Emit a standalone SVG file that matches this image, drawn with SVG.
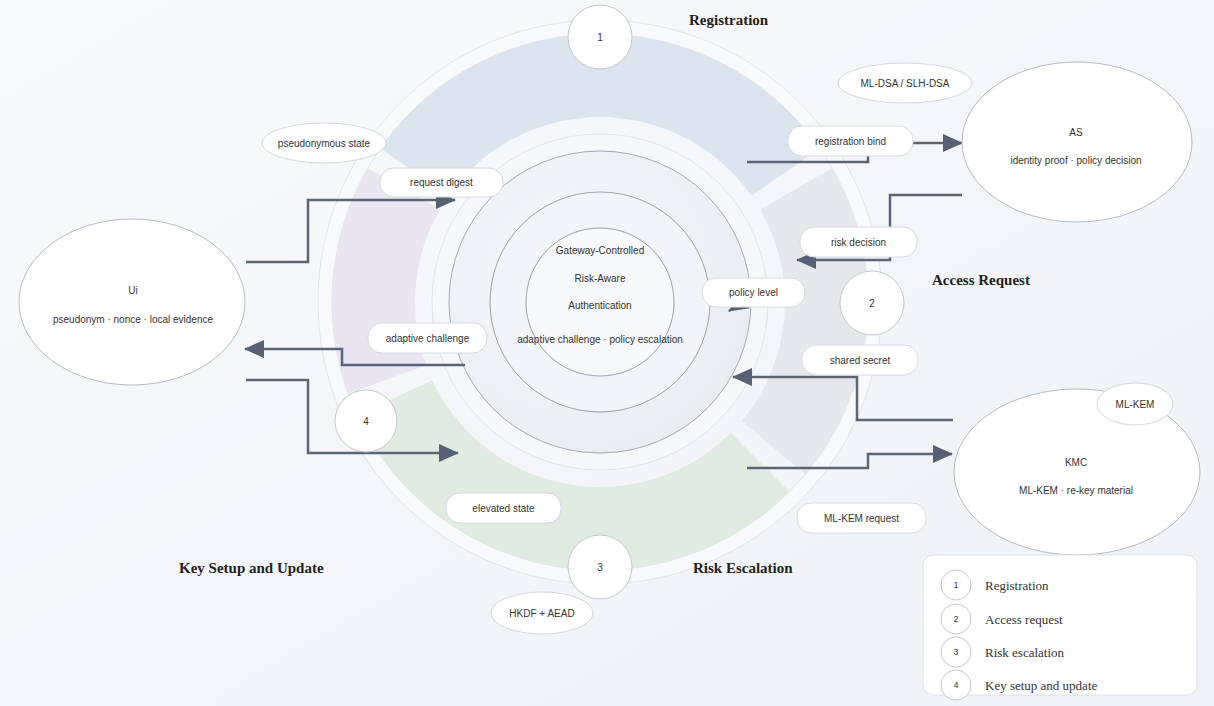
<svg xmlns="http://www.w3.org/2000/svg" width="1214" height="706" viewBox="0 0 1214 706">
<defs>
<linearGradient id="bg" x1="0" y1="0" x2="1" y2="1">
<stop offset="0" stop-color="#f8f9fb"/>
<stop offset="1" stop-color="#eff2f6"/>
</linearGradient>
<radialGradient id="disk" cx="0.4" cy="0.4" r="0.7">
<stop offset="0" stop-color="#f8f9fb"/>
<stop offset="1" stop-color="#e8ebf0"/>
</radialGradient>
<marker id="arr" markerUnits="userSpaceOnUse" markerWidth="20" markerHeight="18" refX="19" refY="9" orient="auto">
<path d="M0,0 L20,9 L0,18 z" fill="#566273"/>
</marker>
<style>
.conn{fill:none;stroke:#5a6677;stroke-width:2.5;marker-end:url(#arr)}
.pill{fill:#ffffff;stroke:#d6dbe1;stroke-width:1}
.note{fill:#ffffff;stroke:#d3d8de;stroke-width:1}
.node{fill:#ffffff;stroke:#b5bbc3;stroke-width:1}
.num{fill:#ffffff;stroke:#c4c9d0;stroke-width:1}
.t{font-family:"Liberation Sans",Arial,sans-serif;font-size:10px;fill:#333;text-anchor:middle}
.title{font-family:"Liberation Serif","Times New Roman",serif;font-size:15px;font-weight:bold;fill:#222}
.leg{font-family:"Liberation Serif","Times New Roman",serif;font-size:13px;fill:#333}
.ringline{fill:none;stroke:#e1e5ea;stroke-width:1}
</style>
</defs>
<rect width="1214" height="706" fill="url(#bg)"/>

<g id="rings">
<circle cx="600" cy="302" r="275" fill="none" stroke="#f8f9fb" stroke-width="14"/>
<circle cx="600" cy="302" r="282" class="ringline"/>
<circle cx="600" cy="302" r="268" class="ringline"/>
<path id="sector-registration" d="M819.5,148.3 A268,268 0 0 0 380.5,148.3 L448.5,195.9 A185,185 0 0 1 751.5,195.9 Z" fill="#dbe5f0"/>
<path id="sector-key" d="M367.9,168 A268,268 0 0 0 348.2,393.7 L426.2,365.3 A185,185 0 0 1 439.8,209.5 Z" fill="#e9e5f1"/>
<path id="sector-risk" d="M357.1,415.3 A268,268 0 0 0 789.5,491.5 L730.8,432.8 A185,185 0 0 1 432.3,380.2 Z" fill="#e0ece2"/>
<path id="sector-access" d="M805.3,474.3 A268,268 0 0 0 832.1,168 L760.2,209.5 A185,185 0 0 1 741.7,420.9 Z" fill="#e6e8ec"/>
<circle cx="600" cy="302" r="160" fill="none" stroke="#f6f7f9" stroke-width="17"/>
<circle cx="600" cy="302" r="168" class="ringline"/>
</g>

<g id="core">
<circle cx="600" cy="302" r="151" fill="url(#disk)" stroke="#a4abb4" stroke-width="1"/>
<circle cx="600" cy="302" r="110" fill="#f2f4f7" stroke="#9aa2ac" stroke-width="1"/>
<circle cx="600" cy="302" r="74" fill="#f7f8fa" stroke="#9aa2ac" stroke-width="1"/>
<text class="t" x="600" y="254">Gateway-Controlled</text>
<text class="t" x="600" y="282">Risk-Aware</text>
<text class="t" x="600" y="309">Authentication</text>
<text class="t" x="600" y="343">adaptive challenge · policy escalation</text>
</g>

<g id="connectors">
<path class="conn" d="M246,262 H308 V200 H455"/>
<path class="conn" d="M465,365 H342 V349 H245"/>
<path class="conn" d="M246,380 H308 V453 H458"/>
<path class="conn" d="M747,162 H868 V143 H962"/>
<path class="conn" d="M962,195 H890 V260 H797"/>
<path class="conn" d="M765,288 L729,311"/>
<path class="conn" d="M953,420 H857 V377 H733"/>
<path class="conn" d="M747,468 H868 V454 H952"/>
</g>

<g id="labels">
<g id="lbl-request-digest"><rect class="pill" x="380" y="168" width="123" height="29" rx="14"/><text class="t" x="441.5" y="186">request digest</text></g>
<g id="lbl-registration-bind"><rect class="pill" x="788" y="126" width="125" height="30" rx="14"/><text class="t" x="850.5" y="145">registration bind</text></g>
<g id="lbl-risk-decision"><rect class="pill" x="800" y="227" width="117" height="30" rx="14"/><text class="t" x="858.5" y="246">risk decision</text></g>
<g id="lbl-policy-level"><rect class="pill" x="702" y="278" width="103" height="29" rx="14"/><text class="t" x="753.5" y="296">policy level</text></g>
<g id="lbl-shared-secret"><rect class="pill" x="802" y="345" width="116" height="30" rx="14"/><text class="t" x="860" y="364">shared secret</text></g>
<g id="lbl-adaptive-challenge"><rect class="pill" x="368" y="323" width="119" height="30" rx="14"/><text class="t" x="427.5" y="342">adaptive challenge</text></g>
<g id="lbl-elevated-state"><rect class="pill" x="446" y="493" width="115" height="30" rx="14"/><text class="t" x="503.5" y="512">elevated state</text></g>
<g id="lbl-mlkem-request"><rect class="pill" x="797" y="503" width="129" height="30" rx="14"/><text class="t" x="861.5" y="522">ML-KEM request</text></g>
</g>

<g id="notes">
<g id="note-mldsa"><ellipse class="note" cx="905" cy="83" rx="67" ry="20"/><text class="t" x="905" y="87">ML-DSA / SLH-DSA</text></g>
<g id="note-pseudonymous"><ellipse class="note" cx="324" cy="143" rx="62" ry="20"/><text class="t" x="324" y="147">pseudonymous state</text></g>
<g id="note-hkdf"><ellipse class="note" cx="542" cy="613" rx="51" ry="21"/><text class="t" x="542" y="617">HKDF + AEAD</text></g>
</g>

<g id="node-ui"><ellipse class="node" cx="132" cy="302" rx="113" ry="83"/><text class="t" x="133" y="294">Ui</text><text class="t" x="133" y="323">pseudonym · nonce · local evidence</text></g>
<g id="node-as"><ellipse class="node" cx="1077" cy="142" rx="115" ry="80"/><text class="t" x="1076" y="136">AS</text><text class="t" x="1076" y="164">identity proof · policy decision</text></g>
<g id="node-kmc"><ellipse class="node" cx="1077" cy="472" rx="123" ry="83"/><text class="t" x="1076" y="466">KMC</text><text class="t" x="1076" y="494">ML-KEM · re-key material</text></g>
<g id="note-mlkem"><ellipse class="note" cx="1135" cy="404" rx="38" ry="21"/><text class="t" x="1135" y="408">ML-KEM</text></g>

<g id="steps">
<g id="step-1"><circle class="num" cx="600" cy="37" r="32"/><text class="t" x="600" y="41">1</text></g>
<g id="step-2"><circle class="num" cx="872" cy="303" r="32"/><text class="t" x="872" y="307">2</text></g>
<g id="step-3"><circle class="num" cx="600" cy="567" r="32"/><text class="t" x="600" y="571">3</text></g>
<g id="step-4"><circle class="num" cx="366" cy="421" r="31"/><text class="t" x="366" y="425">4</text></g>
</g>

<g id="titles">
<text class="title" x="689" y="25">Registration</text>
<text class="title" x="932" y="285">Access Request</text>
<text class="title" x="693" y="573">Risk Escalation</text>
<text class="title" x="179" y="573">Key Setup and Update</text>
</g>

<g id="legend">
<rect x="923" y="555" width="274" height="140" rx="10" fill="#ffffff" stroke="#dde1e6"/>
<circle class="num" cx="956" cy="585" r="15"/><text class="t" x="956" y="588" style="font-size:9px">1</text><text class="leg" x="985" y="590">Registration</text>
<circle class="num" cx="956" cy="619" r="15"/><text class="t" x="956" y="622" style="font-size:9px">2</text><text class="leg" x="985" y="624">Access request</text>
<circle class="num" cx="956" cy="652" r="15"/><text class="t" x="956" y="655" style="font-size:9px">3</text><text class="leg" x="985" y="657">Risk escalation</text>
<circle class="num" cx="956" cy="685" r="15"/><text class="t" x="956" y="688" style="font-size:9px">4</text><text class="leg" x="985" y="690">Key setup and update</text>
</g>
</svg>
